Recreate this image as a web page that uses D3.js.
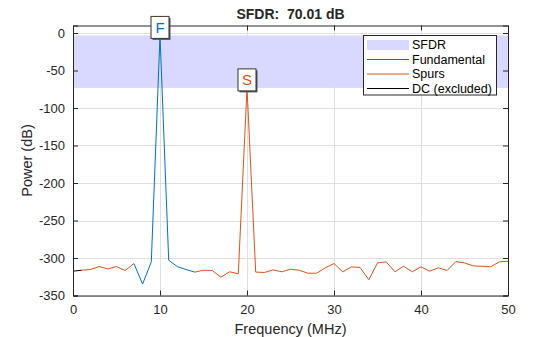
<!DOCTYPE html>
<html>
<head>
<meta charset="utf-8">
<script src="https://cdn.jsdelivr.net/npm/d3@7"></script>
<style>
  html, body { margin: 0; padding: 0; background: #fff; }
  svg { display: block; font-family: "Liberation Sans", Arial, Helvetica, sans-serif; }
</style>
</head>
<body>
<svg id="chart" width="560" height="337"></svg>
<script>
// ---- data ----
const freqMHz = [0,1,2,3,4,5,6,7,8,9,10,11,12,13,14,15,16,17,18,19,20,21,22,23,24,25,26,27,28,29,30,31,32,33,34,35,36,37,38,39,40,41,42,43,44,45,46,47,48,49,50];
const powerDb = [-317.6,-316.3,-315.4,-311.4,-314.5,-311.4,-316.7,-307.4,-334.8,-305.2,
                 -3.2,-303.0,-311.5,-315.4,-318.8,-316.3,-316.7,-325.6,-318.4,-321.0,
                 -73.2,-318.8,-319.3,-315.8,-318.4,-315.0,-316.3,-320.3,-320.3,-313.1,
                 -307.4,-318.4,-311.8,-312.7,-329.0,-306.6,-305.2,-318.4,-311.0,-318.4,
                 -311.8,-317.6,-313.1,-316.7,-304.8,-306.6,-310.5,-311.0,-311.8,-305.2,-304.3];
const dcRange = [0, 1];          // index range plotted as DC (excluded)
const fundRange = [7, 14];       // index range of fundamental bins
const fundIndex = 10;
const spurIndex = 20;
const xTicks = [0,10,20,30,40,50];
const yTicks = [0,-50,-100,-150,-200,-250,-300,-350];
const legendLabels = ["SFDR","Fundamental","Spurs","DC (excluded)"];
const titleText = "SFDR:  70.01 dB";
const xLabel = "Frequency (MHz)";
const yLabel = "Power (dB)";

// ---- layout ----
const svg = d3.select("#chart");
const L = 73, R = 508, T = 25.5, B = 295.5;
const x = d3.scaleLinear().domain([0, 50]).range([L, R]);
const y = d3.scaleLinear().domain([-350, 10]).range([B, T]);
const axisCol = "#262626";
const blue = "#0072BD", orange = "#D95319";

// grid
const g = svg.append("g");
g.selectAll(".gx").data(xTicks).enter().append("line")
  .attr("x1", d => Math.round(x(d)) + 0.5).attr("x2", d => Math.round(x(d)) + 0.5)
  .attr("y1", T).attr("y2", B).attr("stroke", "#dfdfdf").attr("stroke-width", 1);
g.selectAll(".gy").data(yTicks).enter().append("line")
  .attr("y1", d => Math.round(y(d)) + 0.5).attr("y2", d => Math.round(y(d)) + 0.5)
  .attr("x1", L).attr("x2", R).attr("stroke", "#dfdfdf").attr("stroke-width", 1);

// SFDR band
const fundP = powerDb[fundIndex], spurP = powerDb[spurIndex];
svg.append("rect")
  .attr("x", x(0)).attr("width", x(50) - x(0))
  .attr("y", y(fundP)).attr("height", y(spurP) - y(fundP))
  .attr("fill", "#d9d9ff");

// lines
const pts = freqMHz.map((f, i) => ({f, p: powerDb[i], i}));
const line = d3.line().x(d => x(d.f)).y(d => y(d.p));
const clip = svg.append("clipPath").attr("id", "clip").append("rect")
  .attr("x", L).attr("y", T).attr("width", R - L).attr("height", B - T);
const lg = svg.append("g").attr("clip-path", "url(#clip)");
const seg = (a, b) => pts.filter(d => d.i >= a && d.i <= b);
lg.append("path").datum(seg(dcRange[1], fundRange[0])).attr("d", line)
  .attr("fill", "none").attr("stroke", orange).attr("stroke-width", 1);
lg.append("path").datum(seg(fundRange[1], freqMHz.length - 1)).attr("d", line)
  .attr("fill", "none").attr("stroke", orange).attr("stroke-width", 1);
lg.append("path").datum(seg(fundRange[0], fundRange[1])).attr("d", line)
  .attr("fill", "none").attr("stroke", blue).attr("stroke-width", 1);
lg.append("path").datum(seg(dcRange[0], dcRange[1])).attr("d", line)
  .attr("fill", "none").attr("stroke", "#000").attr("stroke-width", 1);

// axes
const xAxisB = d3.axisBottom(x).tickValues(xTicks).tickSize(-5).tickPadding(9).tickFormat(d3.format("d"));
const xAxisT = d3.axisTop(x).tickValues(xTicks).tickSize(-5).tickFormat("");
const yAxisL = d3.axisLeft(y).tickValues(yTicks).tickSize(-5).tickPadding(8).tickFormat(d => d);
const yAxisR = d3.axisRight(y).tickValues(yTicks).tickSize(-5).tickFormat("");
function styleAxis(sel) {
  sel.selectAll("path").attr("stroke", axisCol);
  sel.selectAll("line").attr("stroke", axisCol);
  sel.selectAll("text").attr("fill", axisCol).style("font-size", "13px")
     .style("font-family", "'Liberation Sans', Arial, sans-serif");
}
svg.append("g").attr("transform", `translate(0,${B})`).call(xAxisB).call(styleAxis);
svg.append("g").attr("transform", `translate(0,${T})`).call(xAxisT).call(styleAxis);
svg.append("g").attr("transform", `translate(${L},0)`).call(yAxisL).call(styleAxis);
svg.append("g").attr("transform", `translate(${R},0)`).call(yAxisR).call(styleAxis);

// markers
function marker(idx, label, col) {
  const cx = x(freqMHz[idx]), by = y(powerDb[idx]) + 3;
  const w = 18, h = 22;
  svg.append("rect").attr("x", cx - w / 2 + 1.5).attr("y", by - h + 1.5)
    .attr("width", w).attr("height", h).attr("fill", "#555");
  svg.append("rect").attr("x", cx - w / 2).attr("y", by - h)
    .attr("width", w).attr("height", h).attr("fill", "#fff")
    .attr("stroke", "#333").attr("stroke-width", 1);
  svg.append("text").attr("x", cx).attr("y", by - 5.5).attr("text-anchor", "middle")
    .attr("fill", col).style("font-size", "15px").text(label);
}
marker(fundIndex, "F", blue);
marker(spurIndex, "S", orange);

// legend
const lx = 363.5, ly = 35.5, lw = 133, lh = 59.5;
const leg = svg.append("g");
leg.append("rect").attr("x", lx).attr("y", ly).attr("width", lw).attr("height", lh)
  .attr("fill", "#fff").attr("stroke", axisCol).attr("stroke-width", 1);
const rowY = [45, 59.5, 74, 88.5];
leg.append("rect").attr("x", 367).attr("y", rowY[0] - 5).attr("width", 42).attr("height", 10).attr("fill", "#d9d9ff");
[blue, orange, "#000"].forEach((c, k) => {
  leg.append("line").attr("x1", 367).attr("x2", 409).attr("y1", rowY[k + 1]).attr("y2", rowY[k + 1])
    .attr("stroke", c).attr("stroke-width", 1);
});
legendLabels.forEach((t, k) => {
  leg.append("text").attr("x", 412).attr("y", rowY[k]).attr("dy", "0.35em")
    .attr("fill", "#000").style("font-size", "12.5px").text(t);
});

// title & labels
svg.append("text").attr("x", (L + R) / 2).attr("y", 19).attr("text-anchor", "middle")
  .attr("fill", axisCol).style("font-size", "14px").style("font-weight", "bold")
  .style("white-space", "pre").attr("xml:space", "preserve").text(titleText);
svg.append("text").attr("x", (L + R) / 2).attr("y", 334).attr("text-anchor", "middle")
  .attr("fill", axisCol).style("font-size", "14.5px").text(xLabel);
svg.append("text").attr("transform", `translate(32,${(T + B) / 2}) rotate(-90)`)
  .attr("text-anchor", "middle").attr("fill", axisCol).style("font-size", "14.5px").text(yLabel);
</script>
</body>
</html>
